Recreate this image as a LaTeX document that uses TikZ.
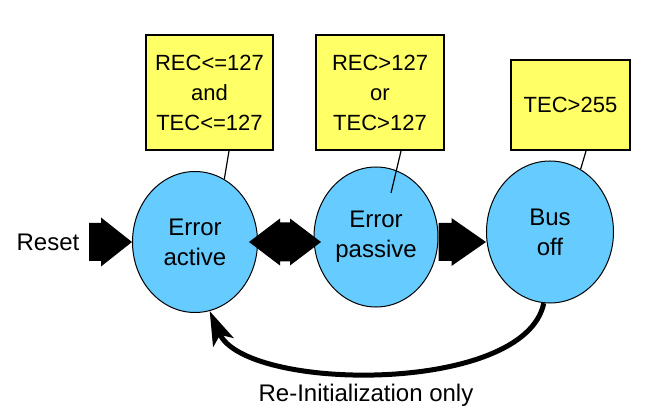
\documentclass[tikz,border=0pt]{standalone}
\usepackage{fontspec}
\setmainfont{Liberation Sans}
\usetikzlibrary{shapes.geometric,arrows.meta}
\definecolor{stateblue}{HTML}{66CCFF}
\definecolor{condyellow}{HTML}{FFFF66}

\begin{document}
\begin{tikzpicture}[x=1pt,y=-1pt,line join=round,
	lbl/.style={inner sep=0pt,font=\fontsize{24}{30}\selectfont},
	state/.style={ellipse,draw,line width=1pt,fill=stateblue,inner sep=0pt,align=center,font=\fontsize{24}{30}\selectfont},
	cond/.style={rectangle,draw,line width=2pt,line join=miter,fill=condyellow,inner sep=0pt,align=center,font=\fontsize{22}{30}\selectfont},
	callout/.style={line width=1.2pt}]
	\useasboundingbox (0,0) rectangle (648,414);
	% Conditions
	\node[cond,minimum width=127pt,minimum height=115pt] (c1) at (209.5,92.5) {REC<=127\\and\\TEC<=127};
	\node[cond,minimum width=128pt,minimum height=115pt] (c2) at (380,92.5) {REC>127\\or\\TEC>127};
	\node[cond,minimum width=119pt,minimum height=90pt] (c3) at (570.5,105) {TEC>255};
	% States
	\node[state,minimum width=125pt,minimum height=141pt] (ea) at (195,242) {Error\\active};
	\node[state,minimum width=124pt,minimum height=140pt] (ep) at (376,237) {Error\\passive};
	\node[state,minimum width=127pt,minimum height=142pt] (bo) at (550,232) {Bus\\off};
	\node[lbl] (reset) at (48,242) {Reset};
	\node[lbl] (reinit) at (366,395) {Re-Initialization only};
	% Callout lines
	\draw[callout] ([xshift=19.5pt]c1.south) -- (ea.65);
	\draw[callout] ([xshift=21pt]c2.south) -- ++(-10,42);
	\draw[callout] ([xshift=15.5pt]c3.south) -- (bo.64);
	% Block arrows
	\fill (ea.west) -- ++(-31,-24.5) -- ++(0,5.5) -- ++(-12,0) -- ++(0,38) -- ++(12,0) -- ++(0,5.5) -- cycle;
	\fill ([xshift=-9pt]ea.east) -- ++(31,-23.5) -- ++(0,4) -- ++(10,0) -- ++(0,-4) -- ++(31,23.5)
		-- ++(-31,23.5) -- ++(0,-4) -- ++(-10,0) -- ++(0,4) -- cycle;
	\fill (ep.east |- ea.west) -- ++(0,-19) -- ++(13,0) -- ++(0,-5) -- ++(34.5,24) -- ++(-34.5,24)
		-- ++(0,-5) -- ++(-13,0) -- cycle;
	% Back to error active
	\draw[line width=5pt,-{Stealth[length=34pt,width=22pt,inset=8pt]}] (bo.265) .. controls (525,395) and (245,392) .. (ea.282);
\end{tikzpicture}
\end{document}
